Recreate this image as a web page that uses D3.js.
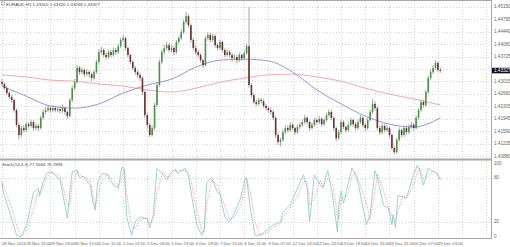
<!DOCTYPE html>
<html><head><meta charset="utf-8">
<script src="https://cdn.jsdelivr.net/npm/d3@7"></script>
<style>html,body{margin:0;padding:0;background:#fff;overflow:hidden}</style>
</head><body><svg id="c" width="510" height="247"></svg>
<script>
// ---------- DATA ----------
const title = "EURAUD,H1  1.43310 1.43320 1.43268 1.43327";
const stochTitle = "Stoch(14,3,3) 77.5566 76.7893";
const currentPrice = 1.43327;
const hoursPerCandle = 2;
const firstOpen = 1.4300;
const closes = [1.4294,1.4282,1.4268,1.4257,1.4248,1.4219,1.4177,1.4148,1.4168,1.4162,
1.4179,1.4174,1.4185,1.4168,1.4174,1.4168,1.4197,1.4214,1.4219,1.4225,
1.4219,1.4225,1.4219,1.4222,1.4217,1.4225,1.4214,1.4202,1.4248,1.4282,
1.4299,1.4340,1.4328,1.4334,1.4322,1.4328,1.4322,1.4311,1.4328,1.4357,
1.4385,1.4391,1.4377,1.4371,1.4385,1.4377,1.4391,1.4385,1.4402,1.4420,
1.4425,1.4397,1.4377,1.4357,1.4340,1.4328,1.4320,1.4311,1.4271,1.4205,
1.4177,1.4148,1.4168,1.4234,1.4291,1.4357,1.4385,1.4397,1.4405,1.4391,
1.4397,1.4385,1.4414,1.4425,1.4442,1.4471,1.4488,1.4462,1.4420,1.4397,
1.4385,1.4377,1.4362,1.4348,1.4425,1.4434,1.4420,1.4431,1.4405,1.4397,
1.4414,1.4391,1.4377,1.4385,1.4377,1.4368,1.4371,1.4362,1.4377,1.4368,
1.4382,1.4402,1.4291,1.4262,1.4242,1.4237,1.4248,1.4245,1.4231,1.4225,
1.4219,1.4214,1.4197,1.4148,1.4128,1.4134,1.4156,1.4168,1.4162,1.4177,
1.4168,1.4156,1.4171,1.4177,1.4185,1.4197,1.4185,1.4168,1.4177,1.4191,
1.4185,1.4194,1.4179,1.4191,1.4205,1.4214,1.4197,1.4168,1.4139,1.4156,
1.4185,1.4171,1.4162,1.4177,1.4191,1.4179,1.4168,1.4185,1.4197,1.4177,
1.4168,1.4191,1.4214,1.4237,1.4225,1.4168,1.4156,1.4174,1.4162,1.4168,
1.4148,1.4111,1.4099,1.4134,1.4162,1.4148,1.4168,1.4156,1.4171,1.4177,
1.4168,1.4197,1.4219,1.4242,1.4234,1.4271,1.4311,1.4328,1.4340,1.4354,
1.4334,1.43327];
const highs = [1.4308,1.4299,1.4288,1.4274,1.4263,1.4252,1.4224,1.4182,1.4175,1.4176,
1.4186,1.4185,1.4192,1.4190,1.4181,1.4180,1.4203,1.4222,1.4228,1.4233,
1.4231,1.4234,1.4230,1.4229,1.4232,1.4235,1.4230,1.4218,1.4254,1.4290,
1.4308,1.4348,1.4346,1.4342,1.4340,1.4336,1.4334,1.4327,1.4334,1.4364,
1.4393,1.4400,1.4396,1.4384,1.4392,1.4391,1.4398,1.4397,1.4409,1.4427,
1.4434,1.4430,1.4402,1.4382,1.4362,1.4346,1.4334,1.4326,1.4316,1.4276,
1.4212,1.4184,1.4176,1.4240,1.4298,1.4364,1.4393,1.4406,1.4414,1.4411,
1.4405,1.4403,1.4420,1.4432,1.4450,1.4478,1.4500,1.4494,1.4467,1.4426,
1.4404,1.4392,1.4383,1.4367,1.4432,1.4442,1.4440,1.4438,1.4436,1.4411,
1.4421,1.4418,1.4396,1.4392,1.4391,1.4383,1.4378,1.4377,1.4384,1.4382,
1.4389,1.4410,1.4514,1.4296,1.4268,1.4250,1.4255,1.4254,1.4250,1.4237,
1.4230,1.4226,1.4220,1.4202,1.4155,1.4140,1.4163,1.4176,1.4175,1.4184,
1.4183,1.4172,1.4178,1.4185,1.4192,1.4205,1.4202,1.4190,1.4184,1.4198,
1.4197,1.4202,1.4199,1.4197,1.4212,1.4222,1.4219,1.4202,1.4172,1.4163,
1.4192,1.4190,1.4176,1.4184,1.4198,1.4196,1.4185,1.4192,1.4205,1.4202,
1.4182,1.4198,1.4221,1.4250,1.4245,1.4230,1.4174,1.4181,1.4180,1.4176,
1.4173,1.4153,1.4117,1.4140,1.4170,1.4167,1.4175,1.4173,1.4178,1.4185,
1.4183,1.4204,1.4226,1.4250,1.4249,1.4278,1.4318,1.4336,1.4348,1.4362,
1.4359,1.4341];
const lows = [1.4288,1.4276,1.4262,1.4251,1.4240,1.4212,1.4170,1.4136,1.4142,1.4155,
1.4157,1.4166,1.4169,1.4160,1.4162,1.4160,1.4164,1.4192,1.4208,1.4213,
1.4212,1.4214,1.4213,1.4212,1.4210,1.4212,1.4206,1.4194,1.4198,1.4242,
1.4276,1.4294,1.4320,1.4322,1.4314,1.4316,1.4312,1.4302,1.4306,1.4323,
1.4350,1.4378,1.4370,1.4364,1.4366,1.4370,1.4372,1.4378,1.4380,1.4397,
1.4414,1.4390,1.4370,1.4350,1.4333,1.4320,1.4312,1.4303,1.4262,1.4196,
1.4166,1.4142,1.4144,1.4162,1.4228,1.4285,1.4350,1.4378,1.4390,1.4384,
1.4385,1.4376,1.4380,1.4408,1.4420,1.4437,1.4466,1.4455,1.4412,1.4390,
1.4378,1.4370,1.4355,1.4340,1.4344,1.4418,1.4413,1.4415,1.4398,1.4390,
1.4392,1.4384,1.4370,1.4372,1.4370,1.4358,1.4362,1.4353,1.4357,1.4360,
1.4362,1.4377,1.4284,1.4255,1.4236,1.4230,1.4232,1.4238,1.4225,1.4218,
1.4212,1.4206,1.4190,1.4140,1.4120,1.4116,1.4129,1.4150,1.4155,1.4157,
1.4161,1.4148,1.4151,1.4165,1.4171,1.4180,1.4178,1.4160,1.4163,1.4172,
1.4178,1.4180,1.4172,1.4174,1.4186,1.4200,1.4190,1.4160,1.4130,1.4134,
1.4150,1.4164,1.4155,1.4157,1.4172,1.4172,1.4160,1.4163,1.4180,1.4170,
1.4160,1.4163,1.4186,1.4208,1.4218,1.4160,1.4148,1.4150,1.4155,1.4156,
1.4140,1.4104,1.4092,1.4095,1.4129,1.4141,1.4143,1.4150,1.4151,1.4166,
1.4161,1.4164,1.4192,1.4214,1.4226,1.4229,1.4266,1.4305,1.4322,1.4335,
1.4327,1.4326];

const maHours = [0,20,40,60,80,100,120,140,160,180,200,220,240,260,280,300,320,340,362];
const redMa  = [1.4320,1.4314,1.4305,1.4302,1.4294,1.4288,1.4277,1.4271,1.4282,1.4299,1.4311,1.4320,1.4322,1.4314,1.4302,1.4282,1.4265,1.4251,1.4234];
const blueMa = [1.4288,1.4259,1.4231,1.4225,1.4237,1.4268,1.4291,1.4308,1.4342,1.4362,1.4365,1.4360,1.4328,1.4277,1.4237,1.4202,1.4179,1.4171,1.4197];

const stochHours = [0,1,7,12,15,17,21,26,30,31,34,37,40,42,48,50,54,56,58,62,
64,67,73,75,77,79,83,87,92,96,99,101,103,107,110,114,120,122,125,128,
133,136,139,143,145,151,154,157,161,165,167,169,173,178,180,184,188,192,197,201,
202,205,209,213,219,224,230,232,238,244,249,252,254,258,263,265,269,273,277,278,
280,282,285,289,292,294,301,304,308,310,315,319,322,323,325,327,331,334,339,343,
345,348,352,356,359,362];
const stochK = [73,61,30,2,0,3,20,60,66,55,74,86,88,86,77,60,25,60,88,90,
80,82,70,47,36,74,86,84,70,66,95,90,27,2,20,27,24,12,30,93,
84,77,86,92,86,93,82,52,16,2,10,74,80,60,58,27,20,32,52,80,
80,39,2,2,9,16,20,33,43,66,84,66,20,84,70,66,90,56,6,40,
62,45,66,93,84,74,16,30,90,80,43,39,16,30,12,56,54,52,80,97,
90,70,93,88,86,77.6];
const stochD = [75,68,45,16,3,2,10,38,62,60,66,80,87,87,82,70,44,42,72,88,
85,81,76,58,42,55,78,85,77,68,80,92,58,15,11,23,26,18,22,60,
88,81,82,89,89,90,88,68,34,9,6,42,77,70,59,42,24,26,42,66,
80,60,20,2,5,12,18,26,38,55,75,75,43,52,77,68,78,73,31,23,
51,54,55,80,88,79,45,23,60,85,62,41,28,23,21,34,55,53,66,88,
93,80,82,90,87,76.8];

const priceTicks = [1.45150,1.44795,1.44440,1.44080,1.43725,1.43370,1.43015,1.42660,1.42305,1.41945,1.41590,1.41235,1.40880];
const stochTicks = [100,80,20,0];
const stochGrid = [80,20];
const dateLabels = ["28 Nov 2016","28 Nov 23:00","29 Nov 19:00","30 Nov 15:00","1 Dec 11:00","2 Dec 07:00","5 Dec 03:00","5 Dec 23:00","6 Dec 19:00","7 Dec 15:00","8 Dec 11:00","9 Dec 07:00","12 Dec 03:00","12 Dec 23:00","13 Dec 19:00","14 Dec 15:00","15 Dec 11:00","16 Dec 07:00","19 Dec 03:00"];
const hoursPerLabel = 20;
const gridHours = d3.range(0, 401, hoursPerLabel);

// ---------- LAYOUT ----------
const plotRight = 491;
const mainTop = 1, mainBottom = 158;
const stTop = 161, stBottom = 238;
const svg = d3.select("#c");
const font = "Liberation Sans, Arial, sans-serif";

const x = d3.scaleLinear().domain([0, 404]).range([2, 491.2]);
const y = d3.scaleLinear().domain([1.40823, 1.45313]).range([mainBottom, mainTop]);
const ys = d3.scaleLinear().domain([0, 100]).range([236.7, 163]);

svg.append("rect").attr("width",510).attr("height",247).attr("fill","#fff");

const gridCol = "#d4d4d4";
svg.append("g").selectAll("line").data(priceTicks).join("line")
  .attr("x1",0).attr("x2",plotRight).attr("y1",d=>Math.round(y(d))+0.5).attr("y2",d=>Math.round(y(d))+0.5)
  .attr("stroke",gridCol).attr("stroke-dasharray","1,2");
svg.append("g").selectAll("line").data(stochGrid).join("line")
  .attr("x1",0).attr("x2",plotRight).attr("y1",d=>Math.round(ys(d))+0.5).attr("y2",d=>Math.round(ys(d))+0.5)
  .attr("stroke",gridCol).attr("stroke-dasharray","1,2");
const vg = svg.append("g");
vg.selectAll("line.m").data(gridHours).join("line").attr("class","m")
  .attr("x1",d=>Math.round(x(d))+0.5).attr("x2",d=>Math.round(x(d))+0.5).attr("y1",mainTop).attr("y2",mainBottom)
  .attr("stroke",gridCol).attr("stroke-dasharray","1,2");
vg.selectAll("line.s").data(gridHours).join("line").attr("class","s")
  .attr("x1",d=>Math.round(x(d))+0.5).attr("x2",d=>Math.round(x(d))+0.5).attr("y1",stTop).attr("y2",stBottom)
  .attr("stroke",gridCol).attr("stroke-dasharray","1,2");

// ---------- MOVING AVERAGES ----------
const maLine = d3.line().x((d,i)=>x(maHours[i])).y(d=>y(d)).curve(d3.curveMonotoneX);
svg.append("path").attr("d",maLine(redMa)).attr("fill","none").attr("stroke","#eda0a0").attr("stroke-width",0.9);
svg.append("path").attr("d",maLine(blueMa)).attr("fill","none").attr("stroke","#8888dc").attr("stroke-width",0.9);

// ---------- CANDLES ----------
const opens = closes.map((c,i)=> i===0 ? firstOpen : closes[i-1]);
const candles = closes.map((c,i)=>({h:i*hoursPerCandle,o:opens[i],c:c,hi:highs[i],lo:lows[i]}));
const cg = svg.append("g");
cg.selectAll("line").data(candles).join("line")
  .attr("x1",d=>x(d.h)).attr("x2",d=>x(d.h)).attr("y1",d=>y(d.hi)).attr("y2",d=>y(d.lo))
  .attr("stroke","#9a9a9a").attr("stroke-width",0.9);
cg.selectAll("rect").data(candles).join("rect")
  .attr("x",d=>x(d.h)-0.8).attr("width",1.6)
  .attr("y",d=>y(Math.max(d.o,d.c)))
  .attr("height",d=>Math.max(1,Math.abs(y(d.o)-y(d.c))))
  .attr("fill",d=>d.c>=d.o?"#4a944a":"#6e2e2e");

// ---------- STOCH ----------
const stLine = d3.line().x((d,i)=>x(stochHours[i])).y(d=>ys(d));
svg.append("path").attr("d",stLine(stochK)).attr("fill","none").attr("stroke","#8fd0ca").attr("stroke-width",0.9);
svg.append("path").attr("d",stLine(stochD)).attr("fill","none").attr("stroke","#e07a7a").attr("stroke-width",0.8).attr("stroke-dasharray","1,1.5");

// ---------- FRAME ----------
svg.append("line").attr("x1",0).attr("x2",plotRight).attr("y1",0.5).attr("y2",0.5).attr("stroke","#a8a8a8");
svg.append("rect").attr("x",0).attr("y",158.5).attr("width",plotRight).attr("height",2).attr("fill","#a8a8a8");
svg.append("line").attr("x1",0).attr("x2",plotRight).attr("y1",238.5).attr("y2",238.5).attr("stroke","#a8a8a8");
svg.append("line").attr("x1",plotRight+0.5).attr("x2",plotRight+0.5).attr("y1",0).attr("y2",239).attr("stroke","#a8a8a8");

// ---------- TEXT ----------
const tc = "#666";
svg.append("g").selectAll("text").data(priceTicks.filter(p=>Math.abs(y(p)-y(currentPrice))>4)).join("text")
  .attr("x",494).attr("y",d=>y(d)+1.5).text(d=>d.toFixed(5))
  .attr("font-family",font).attr("font-size",4.6).attr("fill",tc);
svg.append("rect").attr("x",492).attr("y",y(currentPrice)-2.7).attr("width",18).attr("height",5.6).attr("fill","#111");
svg.append("text").attr("x",494).attr("y",y(currentPrice)+1.6).text(currentPrice.toFixed(5))
  .attr("font-family",font).attr("font-size",4.6).attr("fill","#fff");

svg.append("g").selectAll("text").data(stochTicks).join("text")
  .attr("x",494).attr("y",d=>ys(d)+1.5).text(d=>d)
  .attr("font-family",font).attr("font-size",4.6).attr("fill",tc);

svg.append("g").selectAll("text").data(dateLabels).join("text")
  .attr("x",(d,i)=>x(i*hoursPerLabel)).attr("y",244.5).text(d=>d)
  .attr("font-family",font).attr("font-size",4.2).attr("fill",tc);

svg.append("rect").attr("x",1.5).attr("y",2).attr("width",3).attr("height",3).attr("fill","none").attr("stroke","#888").attr("stroke-width",0.6);
svg.append("text").attr("x",6).attr("y",5.5).text(title)
  .attr("font-family",font).attr("font-size",4.4).attr("fill","#444");
svg.append("text").attr("x",2).attr("y",165.5).text(stochTitle)
  .attr("font-family",font).attr("font-size",4.4).attr("fill","#444");
</script></body></html>
